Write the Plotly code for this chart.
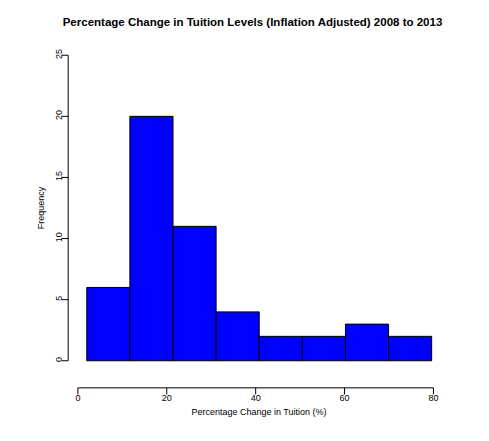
import plotly.graph_objects as go

# histogram bins (percentage change in tuition) and frequencies
bin_edges = [2.0, 11.7, 21.4, 31.1, 40.8, 50.5, 60.2, 69.9, 79.6]
counts = [6, 20, 11, 4, 2, 2, 3, 2]
x_ticks = [0, 20, 40, 60, 80]
y_ticks = [0, 5, 10, 15, 20, 25]

centers = [(a + b) / 2 for a, b in zip(bin_edges[:-1], bin_edges[1:])]
widths = [b - a for a, b in zip(bin_edges[:-1], bin_edges[1:])]

fig = go.Figure(go.Bar(
    x=centers, y=counts, width=widths,
    marker=dict(color='#0000ff', line=dict(color='black', width=1)),
))

font = dict(family='Liberation Sans, Arial', size=9, color='black')
fig.update_layout(
    width=489, height=441,
    margin=dict(l=65, r=52, t=35, b=76),
    plot_bgcolor='white', paper_bgcolor='white',
    font=font, showlegend=False,
    title=dict(text='<b>Percentage Change in Tuition Levels (Inflation Adjusted) 2008 to 2013</b>',
               x=0.5, xanchor='center', y=0.968, yanchor='middle', font=dict(size=11.5)),
    xaxis=dict(range=[-1.1, 82.6], tickvals=x_ticks, showgrid=False, zeroline=False,
               showline=False, ticks='', ticklabelstandoff=18,
               title=dict(text='Percentage Change in Tuition (%)', standoff=6, font=dict(size=9))),
    yaxis=dict(range=[-1, 26], tickvals=y_ticks, showgrid=False, zeroline=False,
               showline=False, ticks='', tickangle=-90, ticklabelstandoff=8,
               title=dict(text='Frequency', standoff=8, font=dict(size=9))),
)

# R-style detached axes
fig.add_shape(type='line', xref='x', yref='paper', x0=x_ticks[0], x1=x_ticks[-1],
              y0=-0.045, y1=-0.045, line=dict(color='black', width=1))
for t in x_ticks:
    fig.add_shape(type='line', xref='x', yref='paper', x0=t, x1=t,
                  y0=-0.045, y1=-0.065, line=dict(color='black', width=1))
fig.add_shape(type='line', xref='paper', yref='y', x0=-0.013, x1=-0.013,
              y0=y_ticks[0], y1=y_ticks[-1], line=dict(color='black', width=1))
for t in y_ticks:
    fig.add_shape(type='line', xref='paper', yref='y', x0=-0.013, x1=-0.03,
                  y0=t, y1=t, line=dict(color='black', width=1))

fig.write_html('out.html')
